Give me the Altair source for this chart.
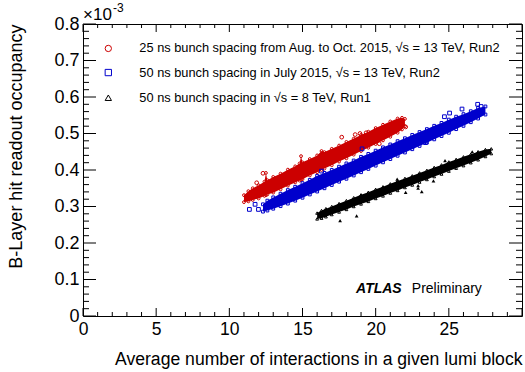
import altair as alt
import pandas as pd

FONT = "Liberation Sans"
RED = "#cc0000"
BLUE = "#0000cc"
BLACK = "#000000"

# ---- 25 ns bunch spacing, Aug.-Oct. 2015, 13 TeV: edges of the dense cloud
red_x  = [11.0, 11.3, 11.6, 12.0, 12.4, 12.5, 12.6, 13.0, 13.5, 14.0, 14.5, 14.8, 14.9, 15.0,
          15.5, 16.0, 16.3, 16.5, 17.0, 17.5, 18.0, 18.5, 19.0, 19.5, 20.0, 20.5, 21.0, 21.5,
          21.8, 22.0]
red_hi = [0.331, 0.342, 0.350, 0.358, 0.368, 0.392, 0.372, 0.381, 0.390, 0.401, 0.410, 0.418,
          0.438, 0.421, 0.430, 0.440, 0.452, 0.449, 0.458, 0.467, 0.477, 0.486, 0.496, 0.505,
          0.515, 0.524, 0.533, 0.541, 0.543, 0.540]
red_lo = [0.312, 0.314, 0.318, 0.322, 0.329, 0.331, 0.333, 0.338, 0.347, 0.357, 0.366, 0.371,
          0.373, 0.375, 0.385, 0.394, 0.400, 0.404, 0.413, 0.423, 0.432, 0.442, 0.452, 0.461,
          0.471, 0.481, 0.491, 0.502, 0.511, 0.520]
# isolated luminosity blocks
red_out_x = [11.87, 12.30, 17.68, 18.60, 18.93, 19.35, 20.25, 22.05]
red_out_y = [0.365, 0.391, 0.490, 0.497, 0.500, 0.502, 0.472, 0.518]

# ---- 50 ns bunch spacing, July 2015, 13 TeV
blue_x  = [12.3, 12.6, 13.0, 13.5, 14.0, 14.5, 15.0, 15.5, 16.0, 16.5, 17.0, 17.5, 18.0, 18.5,
           19.0, 19.5, 20.0, 20.5, 21.0, 21.5, 22.0, 22.5, 23.0, 23.5, 24.0, 24.5, 25.0, 25.5,
           26.0, 26.5, 27.0, 27.5]
blue_hi = [0.306, 0.316, 0.325, 0.335, 0.345, 0.354, 0.364, 0.373, 0.384, 0.392, 0.400, 0.409,
           0.418, 0.426, 0.436, 0.444, 0.453, 0.462, 0.470, 0.479, 0.487, 0.496, 0.504, 0.512,
           0.521, 0.529, 0.538, 0.546, 0.553, 0.561, 0.570, 0.574]
blue_lo = [0.286, 0.289, 0.294, 0.301, 0.308, 0.316, 0.324, 0.333, 0.341, 0.350, 0.359, 0.368,
           0.376, 0.385, 0.394, 0.403, 0.412, 0.421, 0.430, 0.439, 0.448, 0.457, 0.466, 0.475,
           0.484, 0.493, 0.502, 0.512, 0.521, 0.531, 0.541, 0.552]
blue_out_x = [11.37, 11.76, 11.99, 16.30, 19.07, 22.50, 23.40, 24.70, 25.05, 25.90, 26.97, 27.20]
blue_out_y = [0.292, 0.306, 0.292, 0.397, 0.458, 0.465, 0.475, 0.546, 0.556, 0.567, 0.580, 0.574]

# ---- 50 ns bunch spacing, 8 TeV (Run1)
black_x  = [16.0, 16.3, 16.6, 17.0, 17.5, 18.0, 18.5, 19.0, 19.5, 20.0, 20.5, 21.0, 21.5, 22.0,
            22.5, 23.0, 23.5, 24.0, 24.5, 25.0, 25.5, 26.0, 26.5, 27.0, 27.5, 27.9]
black_hi = [0.282, 0.289, 0.294, 0.300, 0.308, 0.316, 0.324, 0.332, 0.339, 0.347, 0.354, 0.362,
            0.370, 0.377, 0.384, 0.392, 0.399, 0.407, 0.414, 0.422, 0.429, 0.436, 0.443, 0.450,
            0.456, 0.458]
black_lo = [0.266, 0.268, 0.272, 0.278, 0.285, 0.292, 0.300, 0.307, 0.314, 0.322, 0.329, 0.337,
            0.344, 0.352, 0.359, 0.367, 0.374, 0.382, 0.389, 0.397, 0.405, 0.412, 0.420, 0.428,
            0.437, 0.445]
black_out_x = [17.57, 18.70, 21.47, 22.05, 23.15, 23.95, 24.74, 26.60, 22.90, 22.90]
black_out_y = [0.261, 0.274, 0.375, 0.339, 0.341, 0.370, 0.426, 0.450, 0.350, 0.357]

legend_labels = [
    "25 ns bunch spacing from Aug. to Oct. 2015, \u221as = 13 TeV, Run2",
    "50 ns bunch spacing in July 2015, \u221as = 13 TeV, Run2",
    "50 ns bunch spacing in \u221as = 8 TeV, Run1",
]
legend_y = [0.733, 0.667, 0.598]

x_major = [0, 5, 10, 15, 20, 25, 30]
x_minor = [v for v in range(31) if v % 5]
y_major = [i / 10 for i in range(9)]
y_minor = [i / 50 for i in range(41) if i % 5]

W, H = 439, 292
xs = alt.Scale(domain=[0, 30], nice=False, zero=False)
ys = alt.Scale(domain=[0, 0.8], nice=False, zero=False)

x_axis = alt.Axis(values=[0, 5, 10, 15, 20, 25], ticks=False, domain=False, grid=False,
                  labelFontSize=17.5, labelFont=FONT, labelColor="black", labelPadding=4,
                  labelFlush=False,
                  title="Average number of interactions in a given lumi block",
                  titleFont=FONT, titleFontSize=17.6, titleFontWeight="normal",
                  titleColor="black", titleAnchor="end", titlePadding=13)
y_axis = alt.Axis(values=y_major, ticks=False, domain=False, grid=False,
                  labelExpr="datum.value == 0 ? '0' : format(datum.value, '.1f')",
                  labelFontSize=18, labelFont=FONT, labelColor="black", labelPadding=4,
                  labelFlush=False,
                  title="B-Layer hit readout occupancy", titleFont=FONT, titleFontSize=18,
                  titleFontWeight="normal", titleColor="black", titleAnchor="end",
                  titlePadding=28)


def X(field):
    return alt.X(field, scale=xs, axis=x_axis)


def Y(field):
    return alt.Y(field, scale=ys, axis=y_axis)


def XD(v):
    return alt.XDatum(v, scale=xs, axis=x_axis)


def YD(v):
    return alt.YDatum(v, scale=ys, axis=y_axis)


def band(x, lo, hi, color):
    df = pd.DataFrame({"x": x, "lo": lo, "hi": hi})
    return alt.Chart(df).mark_area(color=color, interpolate="linear").encode(
        x=X("x:Q"), y=Y("hi:Q"), y2="lo:Q")


def edge_points(x, ys_, color, shape):
    df = pd.DataFrame({"x": x, "y": ys_})
    return alt.Chart(df).mark_point(shape=shape, color=color, filled=False, size=8,
                                    strokeWidth=1, opacity=1).encode(x=X("x:Q"), y=Y("y:Q"))


def outliers(x, y, color, shape, filled=False):
    df = pd.DataFrame({"x": x, "y": y})
    return alt.Chart(df).mark_point(shape=shape, color=color, filled=filled, size=14,
                                    strokeWidth=1, opacity=1).encode(x=X("x:Q"), y=Y("y:Q"))


def xticks(vals, length):
    df = pd.DataFrame({"v": vals})
    bottom = alt.Chart(df).mark_rule(color="black", strokeWidth=1).encode(
        x=X("v:Q"), y=alt.value(H), y2=alt.value(H - length))
    top = alt.Chart(df).mark_rule(color="black", strokeWidth=1).encode(
        x=X("v:Q"), y=alt.value(0), y2=alt.value(length))
    return [bottom, top]


def yticks(vals, length):
    df = pd.DataFrame({"v": vals})
    left = alt.Chart(df).mark_rule(color="black", strokeWidth=1).encode(
        y=Y("v:Q"), x=alt.value(0), x2=alt.value(length))
    right = alt.Chart(df).mark_rule(color="black", strokeWidth=1).encode(
        y=Y("v:Q"), x=alt.value(W), x2=alt.value(W - length))
    return [left, right]


# legend entries drawn inside the frame
leg_df = pd.DataFrame({"y": legend_y, "label": legend_labels,
                       "shape": ["circle", "square", "triangle-up"],
                       "color": [RED, BLUE, BLACK]})
leg_marks = alt.Chart(leg_df).mark_point(filled=False, size=40, strokeWidth=1, opacity=1).encode(
    x=XD(1.73), y=Y("y:Q"),
    shape=alt.Shape("shape:N", scale=None),
    color=alt.Color("color:N", scale=None),
)
leg_text = alt.Chart(leg_df).mark_text(align="left", baseline="middle", font=FONT,
                                       fontSize=12.8, color="black").encode(
    x=XD(3.85), y=Y("y:Q"), text="label:N")

atlas = alt.Chart(pd.DataFrame({"t": ["ATLAS"]})).mark_text(
    align="left", baseline="middle", font=FONT, fontSize=14, fontWeight="bold",
    fontStyle="italic", color="black").encode(x=XD(18.66), y=YD(0.075), text="t:N")
prelim = alt.Chart(pd.DataFrame({"t": ["Preliminary"]})).mark_text(
    align="left", baseline="middle", font=FONT, fontSize=14, color="black").encode(
    x=XD(22.47), y=YD(0.075), text="t:N")

# axis multiplier written above the frame
mult = alt.Chart(pd.DataFrame({"t": ["\u00d710"]})).mark_text(
    align="left", baseline="alphabetic", font=FONT, fontSize=17, color="black", dy=-4).encode(
    x=XD(0), y=YD(0.8), text="t:N")
mult_exp = alt.Chart(pd.DataFrame({"t": ["-3"]})).mark_text(
    align="left", baseline="alphabetic", font=FONT, fontSize=12, color="black",
    dx=30, dy=-12).encode(x=XD(0), y=YD(0.8), text="t:N")

layers = [
    band(red_x, red_lo, red_hi, RED),
    band(blue_x, blue_lo, blue_hi, BLUE),
    band(black_x, black_lo, black_hi, BLACK),
    edge_points(red_x, red_hi, RED, "circle"),
    edge_points(red_x, red_lo, RED, "circle"),
    edge_points(blue_x, blue_hi, BLUE, "square"),
    edge_points(blue_x, blue_lo, BLUE, "square"),
    edge_points(black_x, black_hi, BLACK, "triangle-up"),
    edge_points(black_x, black_lo, BLACK, "triangle-up"),
    outliers(red_out_x, red_out_y, RED, "circle"),
    outliers(blue_out_x, blue_out_y, BLUE, "square"),
    outliers(black_out_x, black_out_y, BLACK, "triangle-up", filled=True),
    *xticks(x_major, 8), *xticks(x_minor, 4),
    *yticks(y_major, 13), *yticks(y_minor, 6),
    leg_marks, leg_text, atlas, prelim, mult, mult_exp,
]

chart = alt.layer(*layers).properties(
    width=W, height=H,
    autosize=alt.AutoSizeParams(type="none"),
    padding={"left": 83, "top": 24, "right": 3, "bottom": 56},
    background="white",
).configure_view(stroke="black", strokeWidth=1)

chart.save("out.html", embed_options={"renderer": "svg", "actions": False})
